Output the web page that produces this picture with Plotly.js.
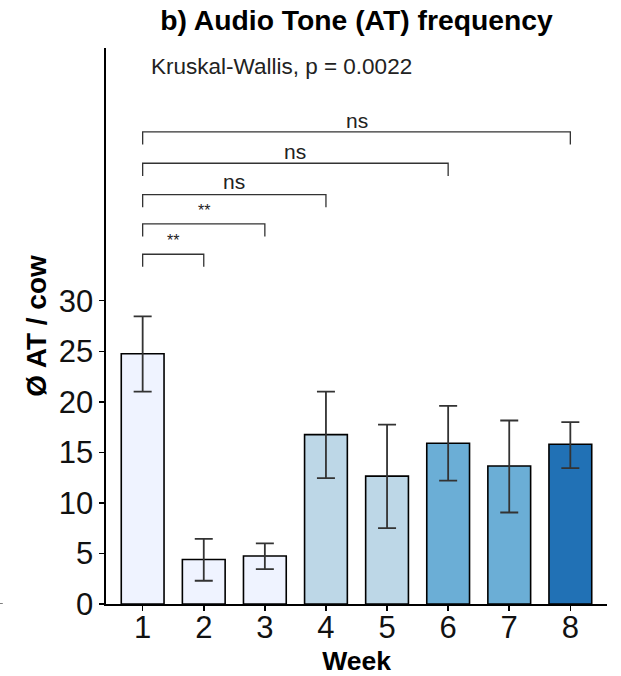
<!DOCTYPE html>
<html>
<head>
<meta charset="utf-8">
<script src="https://cdn.plot.ly/plotly-3.0.1.min.js"></script>
<style>html,body{margin:0;padding:0;background:#fff;}#chart{width:621px;height:676px;}</style>
</head>
<body>
<div id="chart"></div>
<script>
// ---- data ----
const weeks = [1, 2, 3, 4, 5, 6, 7, 8];
const weekLabels = ["1", "2", "3", "4", "5", "6", "7", "8"];
const meanAT = [24.75, 4.4, 4.75, 16.75, 12.65, 15.9, 13.65, 15.8];
const errUpper = [28.45, 6.45, 6.0, 21.0, 17.75, 19.6, 18.15, 18.0];
const errLower = [21.0, 2.3, 3.45, 12.45, 7.5, 12.2, 9.05, 13.45];
const barColors = ["#EFF3FF", "#EFF3FF", "#EFF3FF", "#BDD7E7", "#BDD7E7", "#6BAED6", "#6BAED6", "#2171B5"];
const yTickVals = [0, 5, 10, 15, 20, 25, 30];
// pairwise comparisons vs week 1
const cmpGroup1 = [1, 1, 1, 1, 1];
const cmpGroup2 = [8, 6, 4, 3, 2];
const cmpLabels = ["ns", "ns", "ns", "**", "**"];
const cmpBracketY = [46.7, 43.6, 40.5, 37.6, 34.6];
const cmpLabelY = [47.8, 44.8, 41.8, 38.9, 36.0];
const kwText = "Kruskal-Wallis, p = 0.0022";
const kwY = 53.2;

const FONT = "Liberation Sans, Arial, Helvetica, sans-serif";
const tip = 1.25;

const shapes = [];
const annotations = [];
for (let i = 0; i < cmpGroup1.length; i++) {
  const a = cmpGroup1[i], b = cmpGroup2[i], y = cmpBracketY[i];
  shapes.push({
    type: "path", xref: "x", yref: "y",
    path: `M ${a} ${y - tip} L ${a} ${y} L ${b} ${y} L ${b} ${y - tip}`,
    line: {color: "#333333", width: 1.3}
  });
  const small = cmpLabels[i] === "**";
  annotations.push({
    xref: "x", yref: "y", x: (a + b) / 2, y: cmpLabelY[i],
    text: cmpLabels[i], showarrow: false, xanchor: "center", yanchor: "middle",
    font: {family: FONT, size: small ? 16 : 21, color: "#222"}
  });
}
annotations.push({
  xref: "paper", yref: "y", x: 0.086, y: kwY, text: kwText, showarrow: false,
  xanchor: "left", yanchor: "middle", font: {family: FONT, size: 22.5, color: "#222"}
});
// stray mark at far left edge
shapes.push({type: "line", xref: "paper", yref: "y", x0: -0.212, x1: -0.206, y0: 0, y1: 0,
  line: {color: "#555", width: 1.5}});

const trace = {
  type: "bar", x: weeks, y: meanAT, width: 0.7,
  marker: {color: barColors, line: {color: "#000", width: 1.6}},
  error_y: {
    type: "data", symmetric: false,
    array: errUpper.map((v, i) => v - meanAT[i]),
    arrayminus: meanAT.map((v, i) => v - errLower[i]),
    color: "#333333", thickness: 1.8, width: 9
  },
  hoverinfo: "skip"
};

const layout = {
  width: 621, height: 676,
  margin: {l: 106, r: 14, t: 48, b: 72},
  paper_bgcolor: "#fff", plot_bgcolor: "#fff",
  showlegend: false,
  title: {text: "b) Audio Tone (AT) frequency", x: 0.5, xref: "paper", xanchor: "center",
          y: 0.971, yref: "container", yanchor: "middle",
          font: {family: FONT, size: 28.3, weight: "bold", color: "#000"}},
  xaxis: {
    range: [0.4, 8.6], tickvals: weeks, ticktext: weekLabels,
    showline: true, linecolor: "#000", linewidth: 1.6, mirror: false,
    ticks: "outside", ticklen: 5, tickwidth: 1.5, tickcolor: "#000",
    showgrid: false, zeroline: false, ticklabelstandoff: -10,
    tickfont: {family: FONT, size: 31, color: "#111"},
    title: {text: "Week", font: {family: FONT, size: 26.5, weight: "bold", color: "#000"}, standoff: 10}
  },
  yaxis: {
    range: [0, 55], tickvals: yTickVals, ticktext: yTickVals.map(String),
    showline: true, linecolor: "#000", linewidth: 1.6,
    ticks: "outside", ticklen: 5, tickwidth: 1.5, tickcolor: "#000",
    showgrid: false, zeroline: false,
    tickfont: {family: FONT, size: 31, color: "#111"},
    title: {text: "Ø AT / cow", font: {family: FONT, size: 28, weight: "bold", color: "#000"}, standoff: 4}
  },
  shapes: shapes,
  annotations: annotations
};

Plotly.newPlot("chart", [trace], layout, {staticPlot: true, displayModeBar: false});
</script>
</body>
</html>
